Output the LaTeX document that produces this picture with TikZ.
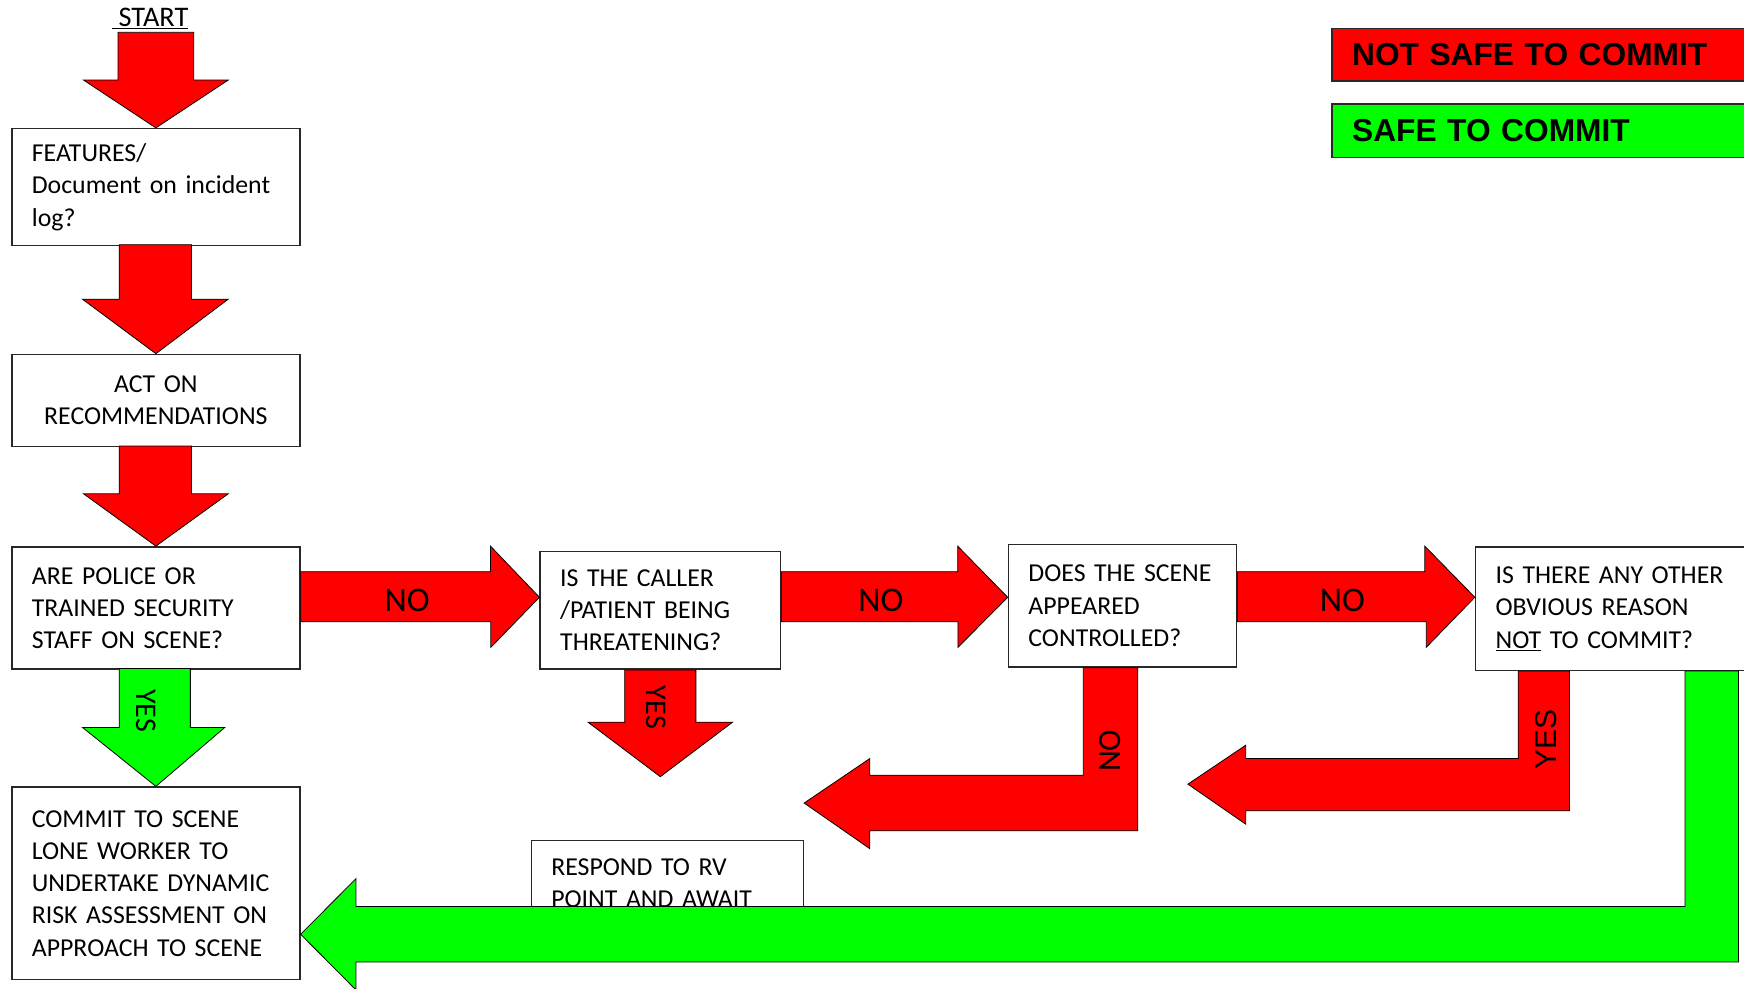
\documentclass[tikz,border=0pt]{standalone}
\usepackage{fontspec}
\setmainfont{Carlito}
\newfontfamily\arialfont{Liberation Sans}
\usetikzlibrary{positioning, calc}
\definecolor{stopred}{RGB}{255,0,0}
\definecolor{gogreen}{RGB}{0,255,0}
\definecolor{edgegrey}{RGB}{40,40,40}

\begin{document}
\begin{tikzpicture}[
    x=1pt, y=-1pt,
    box/.style={draw=edgegrey, line width=1.3pt, fill=white, anchor=north west, inner xsep=18pt, inner ysep=0pt, align=left, font=\fontsize{23.2}{29}\selectfont},
    legend/.style={draw=edgegrey, line width=1.3pt, anchor=north west, minimum width=420pt, text width=384pt, inner xsep=18pt, align=left, font=\arialfont\bfseries\fontsize{28.5}{30}\selectfont},
    redblock/.style={draw=black, line width=0.7pt, fill=stopred},
    greenblock/.style={draw=black, line width=0.7pt, fill=gogreen},
    armlabel/.style={font=\fontsize{31}{31}\selectfont, inner sep=0pt},
    yeslabel/.style={font=\fontsize{27}{27}\selectfont, inner sep=0pt, rotate=-90}
]
    \useasboundingbox (0,0) rectangle (1568,889);

    % Legend
    \node[legend, fill=stopred, minimum height=47pt] (notsafe) at (1197,25) {NOT SAFE TO COMMIT};
    \node[legend, fill=gogreen, minimum height=48pt] (safe) at (1197,93) {SAFE TO COMMIT};

    % Boxes
    \node[font=\fontsize{25.5}{25.5}\selectfont, inner sep=0pt, anchor=base] (start) at (135,24) {\underline{\hspace{6pt}START}};
    \node[box, text width=223pt, minimum height=105pt] (features) at (10,115) {FEATURES/\\Document on incident\\log?};
    \node[box, text width=223pt, minimum height=83pt, align=center] (act) at (10,318) {ACT ON\\RECOMMENDATIONS};
    \node[box, text width=223pt, minimum height=110pt] (police) at (10,491) {ARE POLICE OR\\TRAINED SECURITY\\STAFF ON SCENE?};
    \node[box, text width=223pt, minimum height=173pt] (commit) at (10,707) {COMMIT TO SCENE\\LONE WORKER TO\\UNDERTAKE DYNAMIC\\RISK ASSESSMENT ON\\APPROACH TO SCENE};
    \node[box, text width=180pt, minimum height=106pt] (caller) at (485,495) {IS THE CALLER\\/PATIENT BEING\\THREATENING?};
    \node[box, text width=209pt, minimum height=77pt] (respond) at (477,755) {RESPOND TO RV\\POINT AND AWAIT};
    \node[box, text width=169pt, minimum height=110pt] (scene) at (906,489) {DOES THE SCENE\\APPEARED\\CONTROLLED?};
    \node[box, text width=224pt, minimum height=111pt] (other) at (1326,491) {IS THERE ANY OTHER\\OBVIOUS REASON\\\underline{NOT} TO COMMIT?};

    % Down arrows
    \draw[redblock] (features.north) -- ++(-65,-43) -- ++(31,0) -- ++(0,-43) -- ++(68,0) -- ++(0,43) -- ++(31,0) -- cycle;
    \draw[redblock] (act.north) -- ++(-66,-49) -- ++(33,0) -- ++(0,-49) -- ++(65,0) -- ++(0,49) -- ++(33,0) -- cycle;
    \draw[redblock] (police.north) -- ++(-65,-47) -- ++(32,0) -- ++(0,-43) -- ++(65,0) -- ++(0,43) -- ++(33,0) -- cycle;
    \draw[greenblock] (commit.north) -- ++(-66,-53) -- ++(33,0) -- ++(0,-53) -- ++(64,0) -- ++(0,53) -- ++(31,0) -- cycle;
    \node[yeslabel] (yes1) at (131,639) {YES};
    \draw[redblock] ([xshift=-32pt]caller.south) -- ++(0,47) -- ++(-33,0) -- ++(65,49) -- ++(65,-49) -- ++(-33,0) -- ++(0,-47) -- cycle;
    \node[yeslabel] (yes2) at (590,636) {YES};

    % Right arrows
    \draw[redblock] (caller.west |- 0,537) -- ++(-44,-46) -- ++(0,23) -- (police.east |- 0,514) -- (police.east |- 0,559) -- ++(171,0) -- ++(0,23) -- cycle;
    \node[armlabel] (no1) at (366,540) {NO};
    \draw[redblock] (scene.west |- 0,537) -- ++(-45,-46) -- ++(0,23) -- (caller.east |- 0,514) -- (caller.east |- 0,559) -- ++(159,0) -- ++(0,23) -- cycle;
    \node[armlabel] (no2) at (792,540) {NO};
    \draw[redblock] (other.west |- 0,537) -- ++(-45,-46) -- ++(0,23) -- (scene.east |- 0,514) -- (scene.east |- 0,559) -- ++(170,0) -- ++(0,23) -- cycle;
    \node[armlabel] (no3) at (1207,540) {NO};

    % Bent arrows
    \draw[redblock] (974,0 |- scene.south) -- (974,697) -- (782,697) -- (782,682) -- (723,722) -- (782,763) -- (782,747) -- (1023,747) -- (1023,0 |- scene.south) -- cycle;
    \node[armlabel, font=\fontsize{29}{29}\selectfont, rotate=90] (no4) at (998,675) {NO};
    \draw[redblock] (1365,0 |- other.south) -- (1365,682) -- (1120,682) -- (1120,670) -- (1068,705) -- (1120,741) -- (1120,729) -- (1411,729) -- (1411,0 |- other.south) -- cycle;
    \node[inner sep=0pt, rotate=90, font=\arialfont\fontsize{27}{27}\selectfont] (yes3) at (1390,665) {YES};
    \draw[greenblock] (1515,0 |- other.south) -- (1515,815) -- (320,815) -- (320,790) -- (commit.east |- 0,840) -- (320,890) -- (320,865) -- (1563,865) -- (1563,0 |- other.south) -- cycle;
\end{tikzpicture}
\end{document}
